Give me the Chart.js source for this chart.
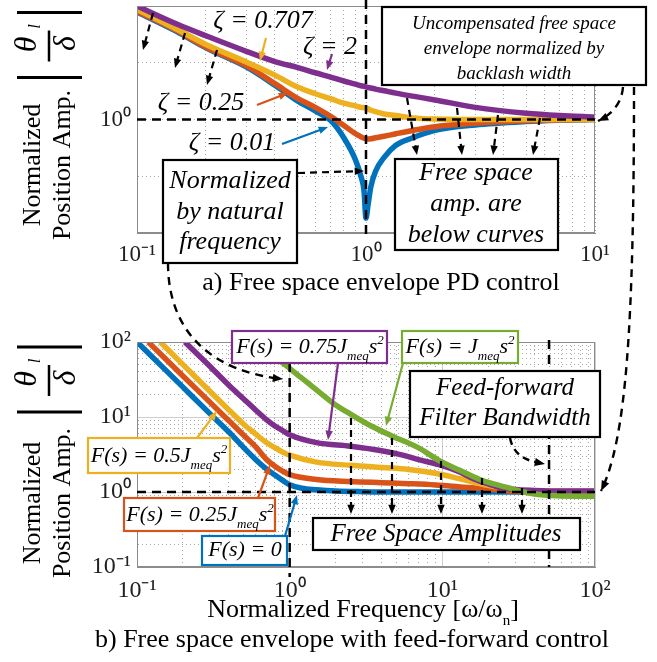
<!DOCTYPE html>
<html>
<head>
<meta charset="utf-8">
<title>Free space envelope</title>
<script src="https://cdn.jsdelivr.net/npm/chart.js@4.4.1/dist/chart.umd.min.js"></script>
<style>
  body { margin: 0; background: #fff; }
  #wrap { position: relative; width: 657px; height: 662px; }
  #wrap canvas { position: absolute; left: 0; }
  #overlay { top: 0; pointer-events: none; }
</style>
</head>
<body>
<div id="wrap">
  <canvas id="topChart" width="657" height="295" style="top:0"></canvas>
  <canvas id="bottomChart" width="657" height="367" style="top:295px"></canvas>
  <canvas id="overlay" width="657" height="662"></canvas>
</div>
<script>
// ---------- a) PD control, normalized by natural frequency ----------
const freqTop     = [0.1, 0.15, 0.2, 0.3, 0.4, 0.5, 0.6, 0.7, 0.8, 0.9, 0.95, 0.98, 1.0, 1.02, 1.05, 1.1, 1.2, 1.35, 1.6, 2, 3, 5, 7, 10];
const ampZeta2    = [4.0, 3.2, 2.78, 2.3, 2.03, 1.89, 1.77, 1.68, 1.6, 1.54, 1.51, 1.5, 1.49, 1.48, 1.47, 1.45, 1.42, 1.38, 1.33, 1.27, 1.16, 1.08, 1.05, 1.03];
const ampZeta0707 = [3.84, 3.0, 2.5, 2.02, 1.72, 1.49, 1.37, 1.29, 1.22, 1.18, 1.16, 1.155, 1.15, 1.14, 1.12, 1.1, 1.07, 1.05, 1.02, 1.005, 1.0, 1.0, 1.0, 1.0];
const ampZeta025  = [3.76, 2.95, 2.42, 1.93, 1.55, 1.3, 1.16, 1.04, 0.93, 0.84, 0.81, 0.795, 0.79, 0.787, 0.79, 0.8, 0.815, 0.84, 0.875, 0.915, 0.955, 0.985, 0.995, 1.0];
const ampZeta001  = [3.72, 2.92, 2.4, 1.9, 1.52, 1.26, 1.11, 0.99, 0.8, 0.61, 0.5, 0.42, 0.3, 0.35, 0.44, 0.53, 0.63, 0.73, 0.8, 0.875, 0.935, 0.975, 0.99, 1.0];

// ---------- b) feed-forward control ----------
const freqF0   = [0.1, 0.15, 0.2, 0.3, 0.4, 0.5, 0.6, 0.7, 0.8, 0.9, 1.0, 1.2, 1.5, 2, 3, 5, 10, 30, 100];
const ampF0    = [100, 44.5, 25, 11.1, 6.3, 3.9, 2.7, 2.05, 1.68, 1.43, 1.25, 1.12, 1.07, 1.03, 1.01, 1.0, 1.0, 1.0, 1.0];
const freqF025 = [0.1186, 0.15, 0.2, 0.3, 0.4, 0.5, 0.6, 0.7, 0.8, 0.9, 1, 1.5, 2.5, 4, 6, 9, 13, 18, 24, 33, 50, 100];
const ampF025  = [100, 62.5, 35.2, 15.8, 8.9, 5.7, 4.0, 2.75, 2.2, 1.9, 1.7, 1.47, 1.38, 1.33, 1.29, 1.24, 1.17, 1.11, 1.06, 1.01, 1.01, 1.01];
const freqF05  = [0.142, 0.2, 0.3, 0.4, 0.5, 0.6, 0.7, 0.8, 0.9, 1.0, 1.5, 2.5, 4, 6, 9, 13, 18, 24, 33, 50, 100];
const ampF05   = [100, 50, 22, 12.4, 8.0, 5.9, 4.6, 3.9, 3.4, 3.1, 2.5, 2.27, 2.12, 2.0, 1.78, 1.5, 1.28, 1.15, 1.04, 1.02, 1.02];
const freqF075 = [0.206, 0.25, 0.3, 0.4, 0.5, 0.6, 0.7, 0.8, 0.9, 1, 1.5, 2.5, 4, 5.5, 7, 10, 13, 16, 20, 24, 30, 40, 60, 100];
const ampF075  = [100, 68, 47.5, 26.5, 17.4, 12.3, 9.3, 7.6, 6.6, 5.8, 4.55, 4.07, 3.55, 3.1, 2.7, 2.25, 1.85, 1.5, 1.28, 1.15, 1.08, 1.05, 1.03, 1.03];
const freqF1   = [0.6, 0.75, 0.93, 1.2, 1.54, 2, 2.55, 3.5, 4.66, 6.95, 9.6, 13, 17.6, 22, 26.5, 32, 40, 56, 75, 100];
const ampF1    = [100, 70, 50, 33, 22, 14.5, 10.7, 7.4, 5.6, 3.9, 2.6, 1.95, 1.47, 1.27, 1.15, 1.03, 0.94, 0.89, 0.88, 0.88];

// ticks
const ticksTopX = [0.1, 0.2, 0.3, 0.4, 0.5, 0.6, 0.7, 0.8, 0.9, 1, 2, 3, 4, 5, 6, 7, 8, 9, 10];
const ticksTopY = [0.25, 0.5, 1, 2, 4];
const ticksBotX = [0.1, 0.2, 0.3, 0.4, 0.5, 0.6, 0.7, 0.8, 0.9, 1, 2, 3, 4, 5, 6, 7, 8, 9, 10, 20, 30, 40, 50, 60, 70, 80, 90, 100];
const ticksBotY = ticksBotX;
const tickLabels = { '-1': '10⁻¹', '0': '10⁰', '1': '10¹', '2': '10²' };

const PURPLE = '#7E2F8E', YELLOW = '#EDB120', ORANGE = '#D95319', BLUE = '#0072BD', GREEN = '#77AC30';
const SERIF = '"Liberation Serif", "Times New Roman", serif';

function isDecade(v) {
    let l = Math.log10(v);
    return Math.abs(l - Math.round(l)) < 1e-9;
}

function series(label, xs, ys, color) {
    return {
        label: label,
        data: xs.map((x, i) => ({ x: x, y: ys[i] })),
        borderColor: color,
        backgroundColor: color,
        borderWidth: 5.5,
        pointRadius: 0,
        cubicInterpolationMode: 'monotone',
        fill: false
    };
}

function logAxis(min, max, tickVals, fontSize, pad, horizontal, size, solidMajor) {
    return {
        type: 'logarithmic',
        min: min,
        max: max,
        afterBuildTicks: s => { s.ticks = tickVals.map(v => ({ value: v })); },
        afterFit: s => {
            if (horizontal) { s.height = size; s.paddingLeft = 0; s.paddingRight = 0; }
            else { s.width = size; s.paddingTop = 0; s.paddingBottom = 0; }
        },
        ticks: {
            autoSkip: false, maxRotation: 0, minRotation: 0, padding: pad, color: '#222',
            font: { family: SERIF, size: fontSize },
            callback: v => isDecade(v) ? tickLabels[Math.round(Math.log10(v))] : ''
        },
        grid: {
            drawTicks: false,
            lineWidth: 1,
            color: ctx => (ctx.tick && solidMajor && isDecade(ctx.tick.value)) ? '#cfcfcf' : '#a8a8a8'
        },
        border: {
            color: '#8c8c8c', width: 1,
            dash: ctx => (!ctx.tick || (solidMajor && isDecade(ctx.tick.value))) ? [] : [1, 3]
        }
    };
}

const framePlugin = {
    id: 'frame',
    afterDraw(chart) {
        let a = chart.chartArea, c = chart.ctx;
        c.save();
        c.strokeStyle = '#8c8c8c';
        c.lineWidth = 1;
        c.strokeRect(a.left + 0.5, a.top + 0.5, a.right - a.left - 1, a.bottom - a.top - 1);
        c.restore();
    }
};

const topChart = new Chart(document.getElementById('topChart'), {
    type: 'line',
    data: {
        datasets: [
            series('ζ = 2', freqTop, ampZeta2, PURPLE),
            series('ζ = 0.707', freqTop, ampZeta0707, YELLOW),
            series('ζ = 0.25', freqTop, ampZeta025, ORANGE),
            series('ζ = 0.01', freqTop, ampZeta001, BLUE)
        ]
    },
    options: {
        responsive: false,
        animation: false,
        layout: { padding: { top: 6, right: 62, bottom: 0, left: 0 } },
        plugins: { legend: { display: false }, tooltip: { enabled: false } },
        scales: {
            x: logAxis(0.1, 10, ticksTopX, 23, 8, true, 62, false),
            y: logAxis(0.25, 4, ticksTopY, 23, 6, false, 137, false)
        }
    },
    plugins: [framePlugin]
});

const bottomChart = new Chart(document.getElementById('bottomChart'), {
    type: 'line',
    data: {
        datasets: [
            series('F(s) = J_meq s²', freqF1, ampF1, GREEN),
            series('F(s) = 0.75J_meq s²', freqF075, ampF075, PURPLE),
            series('F(s) = 0.5J_meq s²', freqF05, ampF05, YELLOW),
            series('F(s) = 0.25J_meq s²', freqF025, ampF025, ORANGE),
            series('F(s) = 0', freqF0, ampF0, BLUE)
        ]
    },
    options: {
        responsive: false,
        animation: false,
        layout: { padding: { top: 47, right: 62, bottom: 0, left: 0 } },
        plugins: { legend: { display: false }, tooltip: { enabled: false } },
        scales: {
            x: logAxis(0.1, 100, ticksBotX, 24, 9, true, 95, true),
            y: logAxis(0.1, 100, ticksBotY, 24, 6, false, 137, true)
        }
    },
    plugins: [framePlugin]
});

//////////////////////// annotations ////////////////////////
const OFF = 295;
const ov = document.getElementById('overlay').getContext('2d');

function topPt(x, y) {
    return [topChart.scales.x.getPixelForValue(x), topChart.scales.y.getPixelForValue(y)];
}
function botPt(x, y) {
    return [bottomChart.scales.x.getPixelForValue(x), bottomChart.scales.y.getPixelForValue(y) + OFF];
}

function head(x, y, ang, color, size) {
    ov.save();
    ov.fillStyle = color;
    ov.beginPath();
    ov.moveTo(x, y);
    ov.lineTo(x - size * Math.cos(ang - 0.38), y - size * Math.sin(ang - 0.38));
    ov.lineTo(x - size * Math.cos(ang + 0.38), y - size * Math.sin(ang + 0.38));
    ov.closePath();
    ov.fill();
    ov.restore();
}

function arrow(x1, y1, x2, y2, color, dashed) {
    let ang = Math.atan2(y2 - y1, x2 - x1);
    let size = 10;
    ov.save();
    ov.strokeStyle = color;
    ov.lineWidth = 2.2;
    ov.setLineDash(dashed ? [7, 5] : []);
    ov.beginPath();
    ov.moveTo(x1, y1);
    ov.lineTo(x2 - size * 0.7 * Math.cos(ang), y2 - size * 0.7 * Math.sin(ang));
    ov.stroke();
    ov.restore();
    head(x2, y2, ang, color, size);
}

function curve(p0, c1, c2, p3, withHead) {
    ov.save();
    ov.strokeStyle = '#000';
    ov.lineWidth = 2.4;
    ov.setLineDash([8, 6]);
    ov.beginPath();
    ov.moveTo(p0[0], p0[1]);
    ov.bezierCurveTo(c1[0], c1[1], c2[0], c2[1], p3[0], p3[1]);
    ov.stroke();
    ov.restore();
    if (withHead) head(p3[0], p3[1], Math.atan2(p3[1] - c2[1], p3[0] - c2[0]), '#000', 11);
}

function dashedLine(x1, y1, x2, y2) {
    ov.save();
    ov.strokeStyle = '#000';
    ov.lineWidth = 2.5;
    ov.setLineDash([9, 6]);
    ov.beginPath();
    ov.moveTo(x1, y1);
    ov.lineTo(x2, y2);
    ov.stroke();
    ov.restore();
}

function box(x1, y1, x2, y2, color) {
    ov.save();
    ov.fillStyle = '#fff';
    ov.fillRect(x1, y1, x2 - x1, y2 - y1);
    ov.strokeStyle = color;
    ov.lineWidth = 2.2;
    ov.strokeRect(x1, y1, x2 - x1, y2 - y1);
    ov.restore();
}

function text(str, x, y, size, italic, align) {
    ov.save();
    ov.fillStyle = '#000';
    ov.font = (italic ? 'italic ' : '') + size + 'px ' + SERIF;
    ov.textAlign = align || 'center';
    ov.textBaseline = 'middle';
    ov.fillText(str, x, y);
    ov.restore();
}

function rich(parts, cx, cy, size, italic) {
    let small = Math.round(size * 0.58);
    let fontFor = p => (italic ? 'italic ' : '') + ((p.sub || p.sup) ? small : size) + 'px ' + SERIF;
    let w = 0;
    ov.save();
    parts.forEach(p => { ov.font = fontFor(p); p.w = ov.measureText(p.t).width; w += p.w; });
    let x = cx - w / 2;
    let base = cy + size * 0.32;
    ov.fillStyle = '#000';
    ov.textAlign = 'left';
    ov.textBaseline = 'alphabetic';
    parts.forEach(p => {
        ov.font = fontFor(p);
        let dy = p.sub ? size * 0.3 : (p.sup ? -size * 0.42 : 0);
        ov.fillText(p.t, x, base + dy);
        x += p.w;
    });
    ov.restore();
}

function ffLabel(coef) {
    return [{ t: 'F(s) = ' + coef + 'J' }, { t: 'meq', sub: true }, { t: 's' }, { t: '2', sup: true }];
}

function rotText(str, x, y, font) {
    ov.save();
    ov.translate(x, y);
    ov.rotate(-Math.PI / 2);
    ov.font = font;
    ov.fillStyle = '#000';
    ov.textAlign = 'center';
    ov.textBaseline = 'middle';
    ov.fillText(str, 0, 0);
    ov.restore();
}

function yTitle(cy, fy) {
    rotText('Normalized', 33, cy, '26px ' + SERIF);
    rotText('Position Amp.', 63, cy, '26px ' + SERIF);
    ov.save();
    ov.strokeStyle = '#000';
    ov.lineWidth = 3;
    ov.beginPath();
    ov.moveTo(17, fy - 33); ov.lineTo(82, fy - 33);
    ov.moveTo(17, fy + 32); ov.lineTo(82, fy + 32);
    ov.stroke();
    ov.lineWidth = 2.5;
    ov.beginPath();
    ov.moveTo(49, fy - 15); ov.lineTo(49, fy + 16);
    ov.stroke();
    ov.restore();
    rotText('θ', 28, fy - 1, 'italic 32px ' + SERIF);
    rotText('l', 36, fy - 19, 'italic 17px ' + SERIF);
    rotText('δ', 67, fy - 2, 'italic 32px ' + SERIF);
}

function drawAnnotations() {
    // ---- top panel ----
    let a = topPt(0.1, 1), b = topPt(10, 1);
    dashedLine(a[0], a[1], b[0], b[1]);
    let x1 = topPt(1, 1)[0];
    dashedLine(x1, 0, x1, 240);

    arrow(153, 13, 143, 50, '#000', true);
    arrow(185, 33, 175, 68, '#000', true);
    arrow(217, 50, 207, 85, '#000', true);

    text('ζ = 0.707', 263, 21, 26, true);
    arrow(266, 38, 260, 61, YELLOW, false);
    text('ζ = 2', 330, 47, 26, true);
    arrow(332, 54, 327, 70, PURPLE, false);
    text('ζ = 0.25', 201, 103, 26, true);
    arrow(257, 105, 288, 93, ORANGE, false);
    text('ζ = 0.01', 232, 143, 26, true);
    arrow(282, 144, 328, 127, BLUE, false);

    box(163, 160, 297, 263, '#000');
    text('Normalized', 230, 181, 26, true);
    text('by natural', 230, 212, 26, true);
    text('frequency', 230, 242, 26, true);
    arrow(298, 173, 364, 171, '#000', true);

    box(382, 7, 646, 85, '#000');
    text('Uncompensated free space', 514, 24, 19, true);
    text('envelope normalized by', 514, 49, 19, true);
    text('backlash width', 514, 74, 19, true);
    curve([623, 87], [622, 100], [615, 113], [598, 121], true);

    box(395, 159, 558, 250, '#000');
    text('Free space', 476, 173, 26, true);
    text('amp. are', 476, 204, 26, true);
    text('below curves', 476, 235, 26, true);
    arrow(407, 98, 417, 155, '#000', true);
    arrow(457, 108, 462, 155, '#000', true);
    arrow(498, 115, 493, 155, '#000', true);
    arrow(540, 118, 533, 155, '#000', true);

    text('a) Free space envelope PD control', 381, 283, 26, false);
    yTitle(165, 45.5);

    // ---- bottom panel ----
    a = botPt(0.1, 1); b = botPt(100, 1);
    dashedLine(a[0], a[1], b[0], b[1]);
    let bx1 = botPt(1, 1)[0];
    dashedLine(bx1, 363, bx1, 577);
    let bx50 = botPt(50, 1)[0];
    let yTopB = botPt(1, 100)[1], yBotB = botPt(1, 0.1)[1];
    dashedLine(bx50, yTopB - 2, bx50, yBotB);

    // cross-panel dashed connectors
    curve([168, 263], [168, 335], [215, 372], [283, 379], true);
    curve([634, 87], [634, 330], [626, 440], [601, 491], true);

    box(232, 331, 387, 363, PURPLE);
    rich(ffLabel('0.75'), 310, 346, 22, true);
    arrow(338, 363, 328, 440, PURPLE, false);

    box(402, 331, 518, 363, GREEN);
    rich(ffLabel(''), 460, 346, 22, true);
    arrow(403, 363, 386, 426, GREEN, false);

    box(88, 438, 230, 473, YELLOW);
    rich(ffLabel('0.5'), 159, 455, 22, true);
    arrow(197, 438, 217, 411, YELLOW, false);

    box(124, 498, 275, 531, ORANGE);
    rich(ffLabel('0.25'), 200, 514, 22, true);
    arrow(258, 498, 270, 465, ORANGE, false);

    box(202, 536, 287, 565, BLUE);
    text('F(s) = 0', 245, 550, 22, true);
    arrow(285, 536, 297, 495, BLUE, false);

    box(410, 371, 600, 437, '#000');
    text('Feed-forward', 505, 388, 25, true);
    text('Filter Bandwidth', 505, 418, 25, true);
    ov.save();
    ov.strokeStyle = '#000'; ov.lineWidth = 2.4; ov.setLineDash([7, 5]);
    ov.beginPath(); ov.moveTo(510, 438); ov.quadraticCurveTo(514, 458, 536, 462); ov.stroke();
    ov.restore();
    head(545, 464, Math.atan2(464 - 458, 545 - 514), '#000', 11);

    box(313, 518, 580, 550, '#000');
    text('Free Space Amplitudes', 446, 534, 25, true);
    [[351, 418], [392, 438], [441, 461], [482, 478], [522, 488]].forEach(p => arrow(p[0], p[1], p[0], 514, '#000', true));

    rich([{ t: 'Normalized Frequency [ω/ω' }, { t: 'n', sub: true }, { t: ']' }], 363, 609, 26, false);
    text('b) Free space envelope with feed-forward control', 352, 640, 26, false);
    yTitle(503, 380);
}

drawAnnotations();
</script>
</body>
</html>
